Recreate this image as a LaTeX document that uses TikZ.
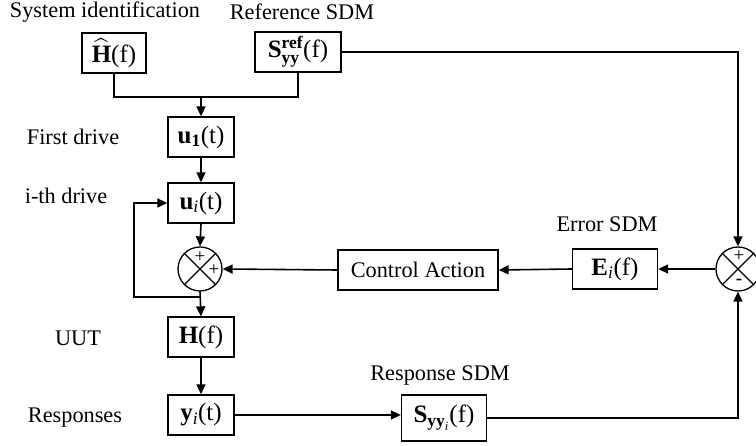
\documentclass[tikz,border=0pt]{standalone}
\usepackage{amsmath}
\usepackage{fontspec}
\setmainfont{Liberation Serif}
\usetikzlibrary{arrows.meta}
\begin{document}
\begin{tikzpicture}[x=1pt,y=-1pt,
  font=\fontsize{22.3}{26}\selectfont,
  box/.style={draw,line width=1.3pt,minimum height=40pt,inner sep=2pt,font=\fontsize{25}{28}\selectfont},
  lbl/.style={inner sep=0pt},
  sumc/.style={draw,line width=1.3pt,circle,minimum size=44pt,inner sep=0pt},
  conn/.style={line width=1.6pt},
  arr/.style={conn,-{Triangle[length=10pt,width=9pt]}},
  sgn/.style={inner sep=0pt,font=\fontsize{19}{19}\selectfont}]
\useasboundingbox (0,0) rectangle (756,446);
% boxes
\node[box,minimum width=64pt] (hhat) at (114,53) {$\widehat{\textbf{H}}$(f)};
\node[box,minimum width=86pt] (sref) at (298,52) {\textbf{S}$^{\textbf{ref}}_{\textbf{yy}}$(f)};
\node[box,minimum width=66pt] (u1) at (201,137) {\textbf{u}$_{\textbf{1}}$(t)};
\node[box,minimum width=66pt] (ui) at (201,203) {\textbf{u}$_{\mathit{i}}$(t)};
\node[sumc] (s1) at (200,269) {};
\node[box,minimum width=66pt] (hf) at (201,337) {\textbf{H}(f)};
\node[box,minimum width=66pt] (yi) at (201,415) {\textbf{y}$_{\mathit{i}}$(t)};
\node[box,minimum width=85pt,minimum height=46pt] (syi) at (444,418) {\textbf{S}$_{\textbf{yy}_{\mathit{i}}}$(f)};
\node[box,minimum width=160pt,font=\fontsize{22.3}{26}\selectfont] (ca) at (418,270) {Control Action};
\node[box,minimum width=85pt] (ei) at (615,269) {\textbf{E}$_{\mathit{i}}$(f)};
\node[sumc] (s2) at (738,269) {};
% cross in sums
\draw[line width=1.1pt] (s1.45)--(s1.225) (s1.135)--(s1.-45);
\draw[line width=1.1pt] (s2.45)--(s2.225) (s2.135)--(s2.-45);
\node[sgn] (p1) at (200,257) {+};
\node[sgn] (p2) at (214,270) {+};
\node[sgn] (p3) at (739,256) {+};
\node[sgn,font=\fontsize{19}{19}\selectfont\bfseries] (m3) at (739,282) {-};
% labels
\node[lbl] (l1) at (105,12) {System identification};
\node[lbl] (l2) at (302,12) {Reference SDM};
\node[lbl] (l3) at (73,137) {First drive};
\node[lbl] (l4) at (66,196) {i-th drive};
\node[lbl] (l5) at (607,224) {Error SDM};
\node[lbl] (l6) at (78,338) {UUT};
\node[lbl] (l7) at (75,418) {Responses};
\node[lbl] (l8) at (440,375) {Response SDM};
% connectors
\coordinate (j) at (201,97);
\coordinate (fb) at (134,297);
\coordinate (rt) at (738,52);
\coordinate (rb) at (738,418);
\draw[conn] (hhat.south) |- (j);
\draw[conn] (sref.south) |- (j);
\draw[arr] (j) -- (u1.north);
\draw[arr] (u1.south) -- (ui.north);
\draw[arr] (ui.south) -- (s1.north);
\draw[arr] (s1.south) -- (hf.north);
\draw[arr] (s1.south |- fb) -- (fb) |- (ui.west);
\draw[arr] (hf.south) -- (yi.north);
\draw[arr] (yi.east) -- (syi.west |- yi.east);
\draw[arr] (syi.east) -- (rb) -- (s2.south);
\draw[arr] (sref.east) -- (rt) -- (s2.north);
\draw[arr] (s2.west) -- (ei.east);
\draw[arr] (ei.west) -- (ca.east);
\draw[arr] (ca.west) -- (s1.east);
\end{tikzpicture}
\end{document}
